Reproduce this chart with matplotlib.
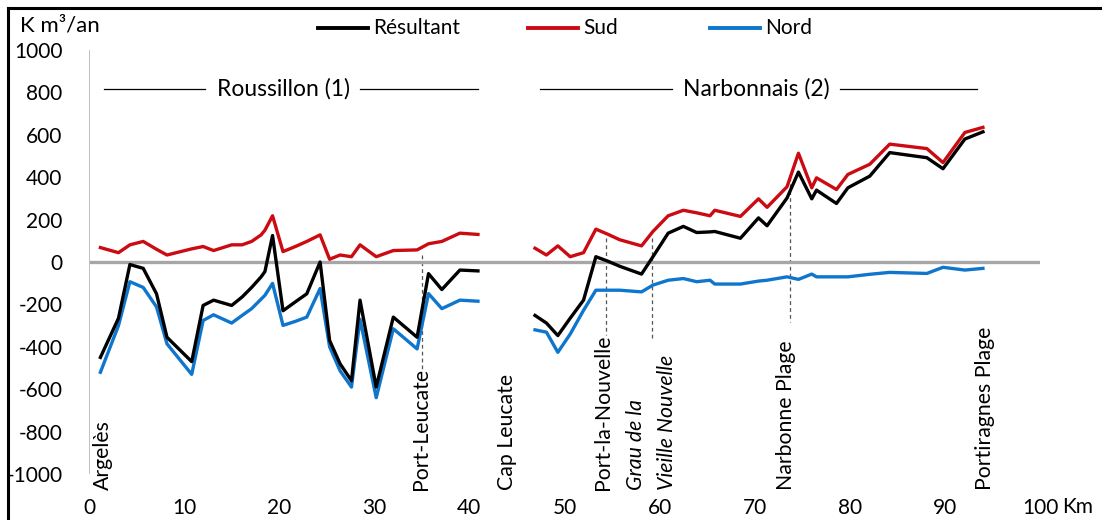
"""
Transport sédimentaire littoral — Roussillon / Narbonnais.

Three series (Résultant, Sud, Nord) in K m3/an against distance along
the coast (km), with the place names marked under the curves.

Usage:
    python plot.py
"""

import matplotlib
matplotlib.use("Agg")
import matplotlib.pyplot as plt
from matplotlib.lines import Line2D

# ── Data: Roussillon section (km 0 – 41) ──────────────────────────────────────
km_roussillon = [1.2, 3.1, 4.3, 5.7, 7.1, 8.2, 10.8, 12.0, 13.1, 15.0,
                 16.1, 17.1, 18.1, 18.5, 19.3, 20.4, 21.7, 22.9, 24.3, 25.3,
                 26.4, 27.6, 28.5, 30.2, 32.0, 34.5, 35.7, 37.1, 39.0, 40.9]
resultant_roussillon = [-450, -265, -12, -30, -150, -355, -470, -205, -180, -205,
                        -165, -120, -70, -45, 125, -230, -188, -150, 0, -370,
                        -480, -560, -180, -590, -260, -355, -55, -130, -38, -42]
sud_roussillon = [68, 44, 81, 97, 60, 33, 62, 73, 54, 81,
                  81, 97, 128, 150, 218, 49, 73, 97, 128, 13,
                  33, 25, 81, 25, 54, 57, 86, 97, 136, 130]
nord_roussillon = [-520, -300, -93, -120, -212, -386, -530, -276, -249, -288,
                   -252, -220, -175, -157, -101, -299, -280, -260, -125, -400,
                   -513, -590, -270, -640, -315, -410, -149, -220, -180, -185]

# ── Data: Narbonnais section (km 47 – 94) ─────────────────────────────────────
km_narbonnais = [46.9, 48.1, 49.3, 50.6, 52.0, 53.3, 54.6, 55.8, 58.1, 59.3,
                 60.9, 62.5, 63.9, 65.3, 65.8, 68.5, 70.4, 71.3, 73.4, 74.6,
                 76.0, 76.5, 78.6, 79.8, 82.1, 84.2, 88.1, 89.8, 92.1, 94.0]
resultant_narbonnais = [-252, -288, -347, -265, -180, 25, 3, -20, -57, 25,
                        136, 168, 139, 142, 144, 112, 208, 171, 302, 424,
                        298, 339, 276, 350, 405, 516, 492, 440, 580, 614]
sud_narbonnais = [65, 33, 76, 25, 44, 155, 130, 105, 76, 144,
                  218, 244, 232, 218, 244, 215, 298, 258, 355, 513,
                  350, 397, 342, 413, 461, 556, 535, 469, 611, 635]
nord_narbonnais = [-320, -331, -426, -340, -228, -133, -133, -133, -141, -109,
                   -86, -78, -93, -86, -104, -104, -90, -86, -70, -82,
                   -57, -70, -70, -70, -58, -49, -54, -25, -38, -30]

# ── Place names along the coast ───────────────────────────────────────────────
place_names = ["Argelès", "Port-Leucate", "Cap Leucate", "Port-la-Nouvelle",
               "Grau de la", "Vieille Nouvelle", "Narbonne Plage",
               "Portiragnes Plage"]
place_km = [1.5, 34.9, 44.0, 54.0, 57.5, 60.8, 73.3, 94.2]
place_italic = [False, False, False, False, True, True, False, False]

# dashed markers: km, top, bottom (K m3/an)
marker_km = [35.0, 54.4, 59.2, 73.7]
marker_top = [33, 113, 113, 400]
marker_bottom = [-505, -345, -370, -283]

legend_labels = ["Résultant", "Sud", "Nord"]

# ── Styles ────────────────────────────────────────────────────────────────────
FONT = ["Lato", "DejaVu Sans"]
FS_TICK = 15
FS_HEAD = 16.5
FS_PLACE = 15.3
BLACK = "#000000"
RED = "#CC0A12"
BLUE = "#0E76CC"
W, H = 1102, 520

plt.rcParams["font.family"] = FONT
plt.rcParams["axes.unicode_minus"] = False

fig = plt.figure(figsize=(W / 100, H / 100), dpi=100)
ax = fig.add_axes([89 / W, 1 - 474 / H, (1040 - 89) / W, (474 - 50) / H])

# ── Series ────────────────────────────────────────────────────────────────────
for km, res, sud, nord in [
    (km_roussillon, resultant_roussillon, sud_roussillon, nord_roussillon),
    (km_narbonnais, resultant_narbonnais, sud_narbonnais, nord_narbonnais),
]:
    ax.plot(km, sud, color=RED, lw=2.4, zorder=3)
    ax.plot(km, nord, color=BLUE, lw=2.4, zorder=3)
    ax.plot(km, res, color=BLACK, lw=2.4, zorder=4)

# zero line + vertical axis
ax.axhline(0, color="#A6A6A6", lw=2.4, zorder=2)
ax.axvline(0, color="#BFBFBF", lw=1.4, zorder=2)

# dashed markers
for xk, y0, y1 in zip(marker_km, marker_top, marker_bottom):
    ax.plot([xk, xk], [y0, y1], color="#555555", lw=0.9,
            dashes=(3, 2.5), zorder=1)

# place names, rotated, anchored at the bottom
for name, xk, it in zip(place_names, place_km, place_italic):
    ax.text(xk, -1075, name, rotation=90, ha="center", va="bottom",
            fontsize=FS_PLACE, style="italic" if it else "normal",
            clip_on=False, zorder=5)

# ── Region headers ────────────────────────────────────────────────────────────
Y_HEAD = 815
ax.plot([1.6, 12.2], [Y_HEAD, Y_HEAD], color="k", lw=0.9)
ax.plot([28.5, 40.9], [Y_HEAD, Y_HEAD], color="k", lw=0.9)
ax.text(20.4, Y_HEAD, "Roussillon (1)", ha="center", va="center",
        fontsize=FS_HEAD)
ax.plot([47.4, 61.3], [Y_HEAD, Y_HEAD], color="k", lw=0.9)
ax.plot([79.0, 93.4], [Y_HEAD, Y_HEAD], color="k", lw=0.9)
ax.text(70.2, Y_HEAD, "Narbonnais (2)", ha="center", va="center",
        fontsize=FS_HEAD)

# ── Axes ──────────────────────────────────────────────────────────────────────
ax.set_xlim(0, 100)
ax.set_ylim(-1000, 1000)
ax.set_xticks(range(0, 101, 10))
ax.set_yticks(range(-1000, 1001, 200))
ax.tick_params(length=0, labelsize=FS_TICK)
ax.tick_params(axis="x", pad=17)
ax.tick_params(axis="y", pad=19)
for s in ax.spines.values():
    s.set_visible(False)
ax.patch.set_alpha(0)

fig.text(20 / W, 1 - 26 / H, "K m³/an", ha="left", va="center", fontsize=16)
fig.text(1062 / W, 1 - 507 / H, "Km", ha="left", va="center",
         fontsize=FS_TICK)

# ── Legend (drawn as samples + labels, Excel-like spacing) ────────────────────
legend_x = [318, 528, 710]
for lab, col, x0 in zip(legend_labels, [BLACK, RED, BLUE], legend_x):
    fig.add_artist(Line2D([x0 / W, (x0 + 50) / W], [1 - 28 / H, 1 - 28 / H],
                          color=col, lw=2.8, transform=fig.transFigure))
    fig.text((x0 + 55) / W, 1 - 28 / H, lab, ha="left", va="center",
             fontsize=FS_TICK)

# ── Frame (left + top) ────────────────────────────────────────────────────────
fig.add_artist(Line2D([8 / W, 8 / W], [0, 1 - 8 / H], color="k", lw=2.2,
                      transform=fig.transFigure))
fig.add_artist(Line2D([8 / W, 1], [1 - 8 / H, 1 - 8 / H], color="k", lw=2.2,
                      transform=fig.transFigure))

fig.savefig("out.png", dpi=100)
